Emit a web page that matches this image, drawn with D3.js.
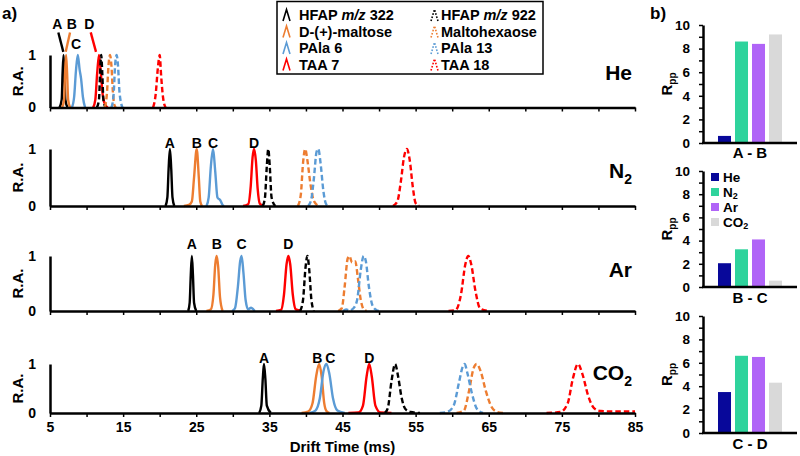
<!DOCTYPE html>
<html><head><meta charset="utf-8">
<script src="https://cdn.jsdelivr.net/npm/d3@7"></script>
<style>
body{margin:0;background:#fff;}
text{font-family:"Liberation Sans",Arial,sans-serif;font-weight:bold;fill:#000;}
</style></head>
<body><svg id="c" width="800" height="456"></svg>
<script>
// ---------- DATA ----------
const gases = ["He","N2","Ar","CO2"];
const speciesNames = ["HFAP m/z 322","D-(+)-maltose","PAla 6","TAA 7","HFAP m/z 922","Maltohexaose","PAla 13","TAA 18"];
const driftTicks = [5,10,15,20,25,30,35,40,45,50,55,60,65,70,75,80,85];
const driftTickLabels = [5,15,25,35,45,55,65,75,85];
const raTicks = [0,1];

// traces: [drift time (ms), relative abundance]
const peaksHe = [
  [[6.3,0],[6.6,0.15],[6.72,0.65],[6.85,1],[6.98,0.65],[7.1,0.15],[7.4,0]],
  [[6.65,0],[6.93,0.15],[7.06,0.65],[7.2,1],[7.34,0.65],[7.48,0.15],[7.75,0]],
  [[8.0,0],[8.3,0.2],[8.55,0.7],[8.8,1],[9.05,0.72],[9.25,0.55],[9.5,0.2],[9.8,0]],
  [[10.9,0],[11.2,0.15],[11.45,0.65],[11.7,1],[11.95,0.65],[12.25,0.2],[12.6,0.04],[12.9,0]],
  [[11.4,0],[11.7,0.15],[11.85,0.65],[12.0,1],[12.15,0.65],[12.3,0.15],[12.6,0]],
  [[12.5,0],[12.8,0.3],[13.0,0.8],[13.2,1],[13.4,0.8],[13.6,0.3],[13.8,0.05],[14.0,0]],
  [[13.4,0],[13.7,0.25],[13.9,0.8],[14.1,1],[14.3,0.8],[14.5,0.3],[14.9,0]],
  [[19.1,0],[19.45,0.25],[19.75,0.75],[20.0,1],[20.2,0.6],[20.45,0.2],[20.8,0]]
];
const peaksN2 = [
  [[20.8,0],[21.05,0.15],[21.22,0.65],[21.4,1],[21.58,0.65],[21.75,0.15],[22.0,0]],
  [[23.3,0],[24.0,0.02],[24.4,0.08],[24.7,0.5],[25.06,1],[25.35,0.5],[25.55,0.08],[25.8,0]],
  [[26.4,0],[26.7,0.15],[27.0,0.7],[27.3,1],[27.6,0.6],[27.9,0.15],[28.3,0.1],[28.6,0.02],[28.8,0]],
  [[31.4,0],[32.1,0.03],[32.45,0.35],[32.7,0.85],[32.9,1],[33.15,0.8],[33.4,0.3],[33.7,0.04],[34.2,0]],
  [[34.1,0],[34.4,0.15],[34.65,0.7],[34.85,1],[35.05,0.7],[35.3,0.15],[35.8,0]],
  [[38.9,0],[39.3,0.2],[39.6,0.75],[39.9,1],[40.2,0.8],[40.6,0.4],[41.0,0.12],[41.5,0.02],[41.9,0]],
  [[40.3,0],[40.7,0.1],[41.1,0.5],[41.45,0.95],[41.7,1],[42.0,0.75],[42.4,0.25],[42.7,0.05],[43.0,0]],
  [[51.9,0],[52.5,0.08],[53.0,0.45],[53.4,0.85],[53.8,1],[54.2,0.8],[54.6,0.35],[55.0,0.05],[55.5,0]]
];
const peaksAr = [
  [[23.9,0],[24.1,0.15],[24.25,0.65],[24.4,1],[24.55,0.65],[24.7,0.15],[25.0,0]],
  [[26.4,0],[27.0,0.03],[27.35,0.3],[27.6,0.85],[27.8,1],[28.0,0.8],[28.25,0.25],[28.6,0]],
  [[29.9,0],[30.3,0.05],[30.7,0.45],[31.0,0.9],[31.2,1],[31.45,0.7],[31.75,0.2],[32.1,0.03],[32.5,0.06],[32.8,0.03],[33.0,0]],
  [[35.9,0],[36.6,0.02],[37.0,0.3],[37.35,0.85],[37.6,1],[37.85,0.85],[38.2,0.3],[38.6,0.03],[39.4,0]],
  [[39.2,0],[39.6,0.2],[39.95,0.8],[40.2,1],[40.45,0.75],[40.75,0.2],[41.1,0]],
  [[44.4,0],[44.9,0.05],[45.3,0.45],[45.7,0.95],[45.95,1],[46.3,0.88],[46.75,0.9],[47.1,0.6],[47.5,0.2],[47.9,0.03],[48.3,0]],
  [[45.1,0],[45.5,0.03],[45.9,0.01],[46.5,0.05],[47.0,0.2],[47.5,0.75],[47.9,1],[48.2,0.9],[48.6,0.45],[49.1,0.1],[49.6,0.02],[50.0,0]],
  [[59.5,0],[60.5,0.02],[61.2,0.3],[61.8,0.85],[62.2,1],[62.6,0.85],[63.2,0.35],[63.8,0.05],[64.9,0]]
];
const peaksCO2 = [
  [[33.6,0],[33.9,0.15],[34.1,0.7],[34.26,1],[34.45,0.7],[34.65,0.15],[35.2,0]],
  [[39.4,0],[40.3,0.03],[40.9,0.2],[41.4,0.75],[41.8,1],[42.15,0.75],[42.5,0.2],[42.8,0.04],[43.2,0]],
  [[40.5,0],[41.3,0.05],[41.9,0.3],[42.4,0.85],[42.8,1],[43.2,0.8],[43.7,0.3],[44.3,0.05],[45.3,0]],
  [[45.8,0],[47.2,0.01],[47.8,0.15],[48.3,0.75],[48.65,1],[49.0,0.75],[49.5,0.15],[50.2,0.01],[51.7,0]],
  [[50.8,0],[51.2,0.1],[51.7,0.65],[52.2,1],[52.6,0.75],[53.1,0.3],[53.6,0.08],[54.3,0.02],[55.6,0]],
  [[60.6,0],[61.6,0.05],[62.3,0.45],[62.9,0.9],[63.35,1],[63.9,0.85],[64.6,0.45],[65.4,0.12],[66.2,0.02],[67.0,0]],
  [[58.3,0],[59.3,0.02],[60.2,0.15],[60.9,0.6],[61.45,0.95],[61.7,1],[62.1,0.8],[62.7,0.4],[63.4,0.08],[64.2,0]],
  [[72.9,0],[74.8,0.02],[75.8,0.2],[76.5,0.7],[77.2,1],[77.8,0.8],[78.6,0.35],[79.4,0.1],[80.3,0.04],[82,0.03],[85,0.03]]
];

// peak letters: [letter, drift time, RA height]
const labelsHe = [["A",6.0,1.5],["B",7.97,1.5],["C",8.56,1.12],["D",10.37,1.5]];
const leadersHe = [[6.14,1.43,6.82,1.06],[7.74,1.43,7.15,1.06],[10.57,1.43,11.29,1.06]];
const labelsN2 = [["A",21.4,1.02],["B",25.06,1.02],["C",27.3,1.02],["D",32.9,1.02]];
const labelsAr = [["A",24.4,1.12],["B",27.8,1.12],["C",31.2,1.12],["D",37.6,1.12]];
const labelsCO2 = [["A",34.26,1.02],["B",41.55,1.02],["C",43.35,1.02],["D",48.65,1.02]];

// panel b
const pairs = ["A - B","B - C","C - D"];
const rppAB = [0.6, 8.6, 8.4, 9.2];
const rppBC = [2.05, 3.25, 4.1, 0.55];
const rppCD = [3.5, 6.6, 6.5, 4.3];
const rppTicks = [0,1,2,3,4,5,6,7,8,9,10];

// ---------- STYLE / LAYOUT ----------
const colors = ["#000000","#ED7D31","#5B9BD5","#FF0000","#000000","#ED7D31","#5B9BD5","#FF0000"];
const gasColors = ["#08089A","#2ED39C","#B064F7","#D9D9D9"];
const svg = d3.select("#c");
const x = d3.scaleLinear().domain([5,85]).range([50,635]);
const panelGeom = [{base:107.5,h:52.5},{base:206,h:57},{base:311,h:55},{base:413,h:49}];
const allPeaks = [peaksHe,peaksN2,peaksAr,peaksCO2];
const allLabels = [labelsHe,labelsN2,labelsAr,labelsCO2];
const gasLabelY = [80,178,277,380];
const FONT = "Liberation Sans, Arial, sans-serif";

function gasText(sel, g, big, small, dy){
  const m = g.match(/^([A-Za-z]+)(\d?)$/);
  sel.append("tspan").text(m[1]);
  if(m[2]) sel.append("tspan").attr("font-size",small).attr("dy", dy).text(m[2]);
}

gases.forEach((gas,gi)=>{
  const {base,h} = panelGeom[gi];
  const y = d3.scaleLinear().domain([0,1]).range([base, base-h]);
  const g = svg.append("g");
  const line = d3.line().x(d=>x(d[0])).y(d=>y(d[1])).curve(d3.curveMonotoneX);
  allPeaks[gi].forEach((pk,si)=>{
    g.append("path").attr("d",line(pk)).attr("fill","none")
      .attr("stroke",colors[si]).attr("stroke-width",2.4)
      .attr("stroke-linejoin","round")
      .attr("stroke-dasharray", si>=4 ? "5.5,3" : null);
  });
  const xa = d3.axisBottom(x).tickValues(driftTicks).tickSize(4).tickSizeOuter(0)
    .tickFormat(d => (gi===3 && driftTickLabels.includes(d)) ? String(d) : "").tickPadding(5);
  const xg = g.append("g").attr("transform",`translate(0,${base})`).call(xa);
  xg.select(".domain").attr("stroke-width",2.5);
  xg.selectAll(".tick line").attr("stroke-width",1.5);
  xg.selectAll("text").attr("font-size",14).attr("font-family",FONT).attr("font-weight","bold");
  const ya = d3.axisLeft(y).tickValues(raTicks).tickSize(0).tickSizeOuter(0).tickPadding(14)
    .tickFormat(d3.format("d"));
  const yg = g.append("g").attr("transform",`translate(50,0)`).call(ya);
  yg.select(".domain").attr("stroke-width",2.5);
  yg.selectAll("text").attr("font-size",14).attr("font-family",FONT).attr("font-weight","bold");
  g.append("text").attr("transform",`translate(23,${base-h/2}) rotate(-90)`)
    .attr("text-anchor","middle").attr("font-size",15).text("R.A.");
  const gt = g.append("text").attr("x", 632).attr("y",gasLabelY[gi]).attr("text-anchor","end").attr("font-size",21);
  gasText(gt, gas, 21, 14, 6);
  allLabels[gi].forEach(l=>{
    g.append("text").attr("x",x(l[1])).attr("y",y(l[2])).attr("text-anchor","middle")
      .attr("font-size",14).text(l[0]);
  });
  if(gi===0){
    const lc = [colors[0],colors[1],colors[3]];
    leadersHe.forEach((d,i)=>{
      g.append("line").attr("x1",x(d[0])).attr("y1",y(d[1])).attr("x2",x(d[2])).attr("y2",y(d[3]))
        .attr("stroke",lc[i]).attr("stroke-width",2.4);
    });
  }
});

svg.append("text").attr("x",x(45)).attr("y",452).attr("text-anchor","middle").attr("font-size",15).text("Drift Time (ms)");
svg.append("text").attr("x",2).attr("y",19).attr("font-size",17).text("a)");
svg.append("text").attr("x",650).attr("y",19).attr("font-size",17).text("b)");

// legend a
const leg = svg.append("g");
leg.append("rect").attr("x",277).attr("y",1.5).attr("width",266).attr("height",72.5)
  .attr("fill","#fff").attr("stroke","#000").attr("stroke-width",1.5);
const rowY = [15,31.5,48,64.5];
speciesNames.forEach((n,i)=>{
  const col = i<4 ? 0 : 1, row = i%4;
  const x0 = col===0 ? 283 : 431, cy = rowY[row];
  leg.append("path").attr("d",`M${x0},${cy+6}L${x0+3.5},${cy-5.5}L${x0+7},${cy+6}`)
    .attr("fill","none").attr("stroke",colors[i]).attr("stroke-width",1.6)
    .attr("stroke-dasharray", col ? "1.6,1.6" : null);
  const t = leg.append("text").attr("x", col===0 ? 299 : 441).attr("y",cy+5).attr("font-size",14.5);
  if(n.includes("m/z")){
    const parts = n.split("m/z");
    t.append("tspan").text(parts[0]);
    t.append("tspan").attr("font-style","italic").text("m/z");
    t.append("tspan").text(parts[1]);
  } else t.text(n);
});

// panel b
const barData = [rppAB, rppBC, rppCD];
const barGeom = [{base:143,top:25,lab:158},{base:287,top:171,lab:303},{base:433,top:316,lab:449}];
const bx = d3.scaleBand().domain(gases).range([716,784]).paddingInner(0.235).paddingOuter(0.1175);
barData.forEach((vals,pi)=>{
  const {base,top,lab} = barGeom[pi];
  const y = d3.scaleLinear().domain([0,10]).range([base,top]);
  const g = svg.append("g");
  g.selectAll("rect").data(vals).join("rect")
    .attr("x",(d,i)=>bx(gases[i])).attr("width",bx.bandwidth())
    .attr("y",d=>y(d)).attr("height",d=>base-y(d))
    .attr("fill",(d,i)=>gasColors[i]);
  const ya = d3.axisLeft(y).tickValues(rppTicks).tickSize(4).tickSizeOuter(0).tickPadding(9)
    .tickFormat(d=> d%2===0 ? String(d) : "");
  const yg = g.append("g").attr("transform","translate(703,0)").call(ya);
  yg.select(".domain").attr("stroke-width",2.5);
  yg.selectAll(".tick line").attr("stroke-width",1.5);
  yg.selectAll("text").attr("font-size",13.5).attr("font-family",FONT).attr("font-weight","bold");
  g.append("line").attr("x1",702).attr("x2",797).attr("y1",base).attr("y2",base)
    .attr("stroke","#000").attr("stroke-width",2.5);
  g.append("text").attr("x",750).attr("y",lab).attr("text-anchor","middle").attr("font-size",15).text(pairs[pi]);
  const rt = g.append("text").attr("transform",`translate(672,${(base+top)/2}) rotate(-90)`)
    .attr("text-anchor","middle").attr("font-size",15);
  rt.append("tspan").text("R");
  rt.append("tspan").attr("font-size",10).attr("dy",4).text("pp");
});

// legend b
const lg = svg.append("g");
const lgY = [177,192,207,222];
gases.forEach((gas,i)=>{
  lg.append("rect").attr("x",711).attr("y",lgY[i]-4).attr("width",8).attr("height",8).attr("fill",gasColors[i]);
  const t = lg.append("text").attr("x",723).attr("y",lgY[i]+4.5).attr("font-size",13.5);
  gasText(t, gas, 13.5, 9, 2.5);
});
</script></body></html>
